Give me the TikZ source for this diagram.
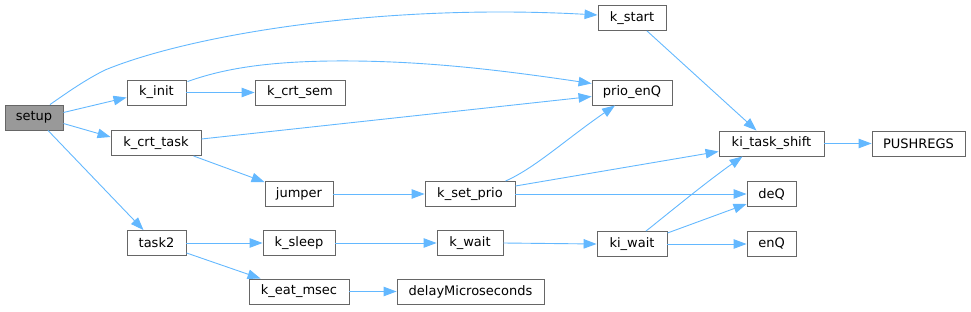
\documentclass[tikz,border=0pt]{standalone}
\usepackage{fontspec}
\setmainfont{DejaVu Sans}
\usetikzlibrary{arrows.meta,calc}
\definecolor{edgec}{HTML}{63B8FF}
\definecolor{borderc}{HTML}{666666}
\definecolor{setupfill}{HTML}{999999}
\tikzset{
  box/.style={draw=borderc, line width=0.9pt, fill=white, inner sep=0pt, minimum height=25pt,
    font=\fontsize{13}{15}\selectfont, text=black},
  edge/.style={draw=edgec, line width=0.9pt, -{Triangle[length=13pt,width=9.5pt]}, color=edgec},
}
\begin{document}
\begin{tikzpicture}[x=1pt,y=-1pt]
\useasboundingbox (0,0) rectangle (971,311);
% nodes
\node[box, fill=setupfill, minimum width=58pt] (setup) at (34,117.5) {setup};
\node[box, minimum width=59pt] (kinit) at (156.5,92.5) {k\_init};
\node[box, minimum width=90pt] (kcrtsem) at (300,92.5) {k\_crt\_sem};
\node[box, minimum width=90pt] (kcrttask) at (156,143) {k\_crt\_task};
\node[box, minimum width=68pt] (jumper) at (299,194) {jumper};
\node[box, minimum width=59pt] (task2) at (156.5,243) {task2};
\node[box, minimum width=72pt] (ksleep) at (299,243) {k\_sleep};
\node[box, minimum width=100pt] (keatmsec) at (299,291.5) {k\_eat\_msec};
\node[box, minimum width=90pt] (ksetprio) at (470,194) {k\_set\_prio};
\node[box, minimum width=66pt] (kwait) at (470,243) {k\_wait};
\node[box, minimum width=147pt] (delay) at (470.5,291.5) {delayMicroseconds};
\node[box, minimum width=70pt] (kiwait) at (632,244) {ki\_wait};
\node[box, minimum width=68pt] (kstart) at (632,18) {k\_start};
\node[box, minimum width=80pt] (prioenq) at (632,92.5) {prio\_enQ};
\node[box, minimum width=105pt] (kitaskshift) at (771.5,143.5) {ki\_task\_shift};
\node[box, minimum width=93pt] (pushregs) at (918.5,143.5) {PUSHREGS};
\node[box, minimum width=49pt] (deq) at (771.5,194) {deQ};
\node[box, minimum width=49pt] (enq) at (771.5,244) {enQ};
% edges
\draw[edge] ($(setup.north)+(16,0)$) .. controls (68,92) and (85,80) .. (105,70)
   .. controls (190,35) and (380,3) .. ($(kstart.west)+(0,-3)$);
\draw[edge] ($(setup.east)+(0,-5)$) -- ($(kinit.west)+(0,5)$);
\draw[edge] ($(setup.east)+(0,6)$) -- ($(kcrttask.west)+(0,-6)$);
\draw[edge] ($(setup.south)+(14,0)$) -- ($(task2.north)+(-13,0)$);
\draw[edge] (kinit.east) -- (kcrtsem.west);
\draw[edge] ($(kinit.north east)+(1,2)$) .. controls (220,70) and (260,62) .. (330,61)
   .. controls (420,60) and (500,70) .. ($(prioenq.west)+(0,-9)$);
\draw[edge] ($(kcrttask.east)+(0,-4)$) -- ($(prioenq.west)+(0,4)$);
\draw[edge] ($(kcrttask.south east)+(-8,0)$) -- ($(jumper.north west)+(0,1)$);
\draw[edge] (jumper.east) -- (ksetprio.west);
\draw[edge] ($(ksetprio.north east)+(-10,0)$) .. controls (535,168) and (565,140) .. ($(prioenq.south)+(-17,0)$);
\draw[edge] ($(ksetprio.east)+(0,-8)$) -- ($(kitaskshift.west)+(0,8)$);
\draw[edge] (ksetprio.east) -- (deq.west);
\draw[edge] (task2.east) -- (ksleep.west);
\draw[edge] ($(task2.south east)+(0,-3)$) -- ($(keatmsec.north west)+(12,0)$);
\draw[edge] (ksleep.east) -- (kwait.west);
\draw[edge] (kwait.east) -- (kiwait.west);
\draw[edge] (keatmsec.east) -- (delay.west);
\draw[edge] ($(kstart.south)+(15,0)$) -- ($(kitaskshift.north)+(-15,0)$);
\draw[edge] (kitaskshift.east) -- (pushregs.west);
\draw[edge] ($(kiwait.north)+(14,0)$) .. controls (670,212) and (705,183) .. ($(kitaskshift.south)+(-29,0)$);
\draw[edge] ($(kiwait.east)+(0,-11)$) -- ($(deq.west)+(0,10)$);
\draw[edge] (kiwait.east) -- (enq.west);
\end{tikzpicture}
\end{document}
